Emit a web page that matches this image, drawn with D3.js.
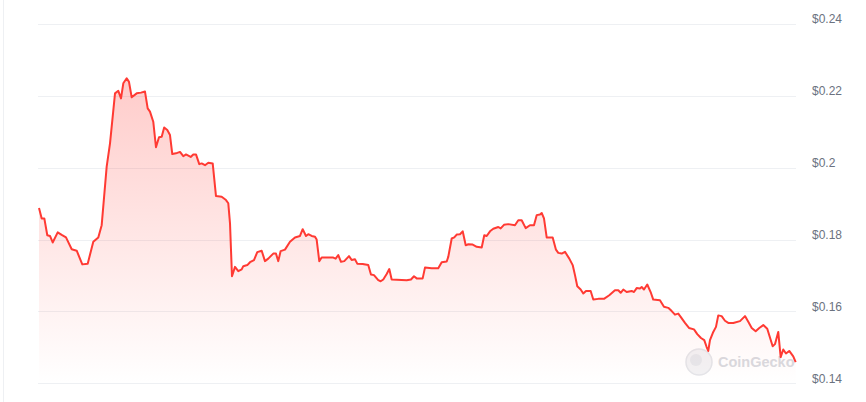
<!DOCTYPE html>
<html>
<head>
<meta charset="utf-8">
<script src="https://cdn.jsdelivr.net/npm/d3@7"></script>
<style>
  html, body { margin: 0; padding: 0; background: #ffffff; }
  svg { display: block; }
</style>
</head>
<body>
<svg id="chart" width="866" height="402"></svg>
<script>
// ---- data (hours since start of 7-day window, USD price) ----
const hours = [
  0, 0.6, 1.18, 1.84, 2.44, 3.04, 4.15, 5.04, 5.99, 7.26, 8.37, 9.61, 10.81, 12.05, 13.16, 13.91,
  15.02, 15.76, 16.87, 17.6, 18.2, 18.71, 19.46, 19.97, 20.57, 21.68, 22.63, 23.52, 24.12, 24.63,
  25.36, 25.96, 26.63, 27.23, 27.78, 28.47, 29.07, 29.58, 30.4, 31.29, 32.02, 32.62, 33.66, 34.24,
  34.84, 35.57, 36.1, 36.84, 37.57, 38.55, 39.28, 40.54, 41.5, 42.01, 42.39, 42.83, 43.5, 44.23,
  44.98, 45.34, 46.23, 46.83, 47.71, 48.44, 49.42, 50.15, 50.88, 51.99, 52.59, 53.1, 53.63, 54.59,
  55.7, 56.81, 57.92, 58.52, 59.25, 59.76, 60.51, 61.25, 61.62, 62.2, 62.73, 65.31, 65.84, 66.42,
  67.02, 67.75, 68.8, 69.39, 70.12, 70.63, 71.83, 73.07, 73.67, 74.34, 75.29, 75.83, 76.4, 77.16,
  77.74, 78.27, 81.6, 82.55, 83.22, 83.82, 85.15, 85.66, 87.15, 88.61, 89.37, 90.48, 90.83, 91.59,
  92.16, 92.7, 93.43, 94.03, 94.7, 95.27, 96.25, 97.14, 98.25, 98.82, 99.36, 100.09, 100.82, 101.93,
  102.46, 103.19, 104.15, 105.63, 106.37, 107.12, 108.01, 108.96, 109.85, 110.45, 111.18, 111.56,
  112.07, 112.67, 114.0, 114.73, 115.24, 116.0, 116.73, 117.69, 118.44, 118.95, 119.46, 120.21,
  120.79, 121.39, 122.43, 123.01, 124.12, 125.38, 126.56, 127.82, 128.56, 129.09, 129.67, 130.42,
  131.53, 132.04, 132.64, 133.37, 133.75, 134.26, 134.99, 135.74, 136.32, 137.81, 138.7, 139.65,
  140.41, 141.14, 141.87, 142.41, 143.36, 144.25, 145.36, 146.09, 146.91, 147.64, 148.17, 148.53,
  148.91, 149.64, 150.24, 150.75, 151.5, 152.24, 152.97, 154.08, 155.57, 156.68, 157.41, 158.17,
  159.05, 159.85, 160.74, 161.62, 162.82, 163.33, 164.06, 164.6, 165.17, 165.77, 166.5, 167.39, 167.93
];
const prices = [
  0.1888, 0.1859, 0.1859, 0.1812, 0.1810, 0.1792, 0.1820, 0.1813, 0.1806, 0.1773, 0.1769, 0.1731, 0.1733, 0.1794, 0.1806, 0.1840,
  0.2003, 0.2068, 0.2207, 0.2214, 0.2193, 0.2235, 0.2249, 0.2239, 0.2196, 0.2207, 0.2209, 0.2212, 0.2165, 0.2156,
  0.2128, 0.2057, 0.2085, 0.2086, 0.2112, 0.2105, 0.2091, 0.2038, 0.2040, 0.2044, 0.2032, 0.2037, 0.2030, 0.2037,
  0.2037, 0.2010, 0.2012, 0.2007, 0.2014, 0.2012, 0.1921, 0.1919, 0.1910, 0.1901, 0.1845, 0.1698, 0.1724, 0.1712,
  0.1717, 0.1726, 0.1729, 0.1737, 0.1743, 0.1765, 0.1769, 0.1740, 0.1747, 0.1761, 0.1761, 0.1740, 0.1768, 0.1772,
  0.1794, 0.1806, 0.1810, 0.1829, 0.1810, 0.1815, 0.1810, 0.1808, 0.1800, 0.1740, 0.1750, 0.1750, 0.1747, 0.1757,
  0.1738, 0.1740, 0.1754, 0.1743, 0.1745, 0.1733, 0.1732, 0.1729, 0.1703, 0.1701, 0.1687, 0.1684, 0.1689, 0.1704,
  0.1718, 0.1689, 0.1687, 0.1689, 0.1698, 0.1692, 0.1692, 0.1722, 0.1720, 0.1720, 0.1737, 0.1739, 0.1752, 0.1803,
  0.1806, 0.1814, 0.1815, 0.1823, 0.1784, 0.1787, 0.1786, 0.1780, 0.1778, 0.1812, 0.1810, 0.1823, 0.1830, 0.1835,
  0.1831, 0.1841, 0.1843, 0.1840, 0.1854, 0.1854, 0.1832, 0.1840, 0.1840, 0.1868, 0.1870, 0.1874,
  0.1859, 0.1806, 0.1806, 0.1772, 0.1763, 0.1761, 0.1766, 0.1747, 0.1729, 0.1701, 0.1670, 0.1661,
  0.1650, 0.1657, 0.1657, 0.1633, 0.1635, 0.1635, 0.1645, 0.1659, 0.1659, 0.1652, 0.1661, 0.1654,
  0.1657, 0.1654, 0.1665, 0.1664, 0.1668, 0.1661, 0.1675, 0.1654, 0.1633, 0.1631, 0.1613, 0.1610,
  0.1601, 0.1591, 0.1594, 0.1585, 0.1568, 0.1554, 0.1550, 0.1537, 0.1526, 0.1520, 0.1501, 0.1490,
  0.1520, 0.1543, 0.1557, 0.1589, 0.1587, 0.1574, 0.1568, 0.1568, 0.1573, 0.1587, 0.1571, 0.1554,
  0.1545, 0.1554, 0.1562, 0.1552, 0.1503, 0.1509, 0.1543, 0.1473, 0.1494, 0.1483, 0.1490, 0.1475, 0.1459
];
const yTicks = [0.14, 0.16, 0.18, 0.20, 0.22, 0.24];
const yTickLabels = ["$0.14", "$0.16", "$0.18", "$0.2", "$0.22", "$0.24"];
const watermark = "CoinGecko";

// ---- drawing ----
const data = hours.map((h, i) => ({ h, p: prices[i] }));
const svg = d3.select("#chart");

const x = d3.scaleLinear().domain([0, 168]).range([39, 796]);
const y = d3.scaleLinear().domain([0.14, 0.24]).range([383.3, 24]);

// card border
svg.append("line")
  .attr("x1", 3.5).attr("x2", 3.5).attr("y1", 0).attr("y2", 402)
  .attr("stroke", "#eef0f3").attr("stroke-width", 1);

// gridlines
svg.append("g").selectAll("line")
  .data(yTicks)
  .join("line")
  .attr("x1", 38).attr("x2", 796)
  .attr("y1", d => Math.round(y(d)) + 0.5)
  .attr("y2", d => Math.round(y(d)) + 0.5)
  .attr("stroke", "#eef0f3").attr("stroke-width", 1);

// y labels (right side)
const yAxis = d3.axisRight(y)
  .tickValues(yTicks)
  .tickFormat((d, i) => yTickLabels[i])
  .tickSize(0)
  .tickPadding(0);
const ag = svg.append("g").attr("transform", "translate(812,0)").call(yAxis);
ag.select(".domain").remove();
ag.selectAll("text")
  .attr("font-family", "'Liberation Sans', Arial, sans-serif")
  .attr("font-size", 12)
  .attr("fill", "#6b7280")
  .attr("dy", "-0.1em")
  .attr("text-anchor", "start");

// gradient
const defs = svg.append("defs");
const grad = defs.append("linearGradient")
  .attr("id", "areaGrad")
  .attr("gradientUnits", "userSpaceOnUse")
  .attr("x1", 0).attr("x2", 0)
  .attr("y1", y(d3.max(prices))).attr("y2", y(0.14));
grad.append("stop").attr("offset", "0%").attr("stop-color", "#ff3a33").attr("stop-opacity", 0.26);
grad.append("stop").attr("offset", "100%").attr("stop-color", "#ff3a33").attr("stop-opacity", 0.0);

// watermark
const wm = svg.append("g").attr("opacity", 0.9);
wm.append("circle").attr("cx", 699).attr("cy", 362).attr("r", 13)
  .attr("fill", "#f1f1f3").attr("stroke", "#e2e3e7").attr("stroke-width", 1.5);
wm.append("circle").attr("cx", 696).attr("cy", 360).attr("r", 6).attr("fill", "#e4e5e9");
wm.append("text").attr("x", 718).attr("y", 367)
  .attr("font-family", "'Liberation Sans', Arial, sans-serif")
  .attr("font-size", 14.5).attr("font-weight", 600)
  .attr("fill", "#d5d7dc").text(watermark);

// area
const area = d3.area()
  .x(d => x(d.h))
  .y0(y(0.14))
  .y1(d => y(d.p));
svg.append("path").datum(data)
  .attr("d", area)
  .attr("fill", "url(#areaGrad)");

// line
const line = d3.line()
  .x(d => x(d.h))
  .y(d => y(d.p));
svg.append("path").datum(data)
  .attr("d", line)
  .attr("fill", "none")
  .attr("stroke", "#ff3a33")
  .attr("stroke-width", 2)
  .attr("stroke-linejoin", "round");
</script>
</body>
</html>
